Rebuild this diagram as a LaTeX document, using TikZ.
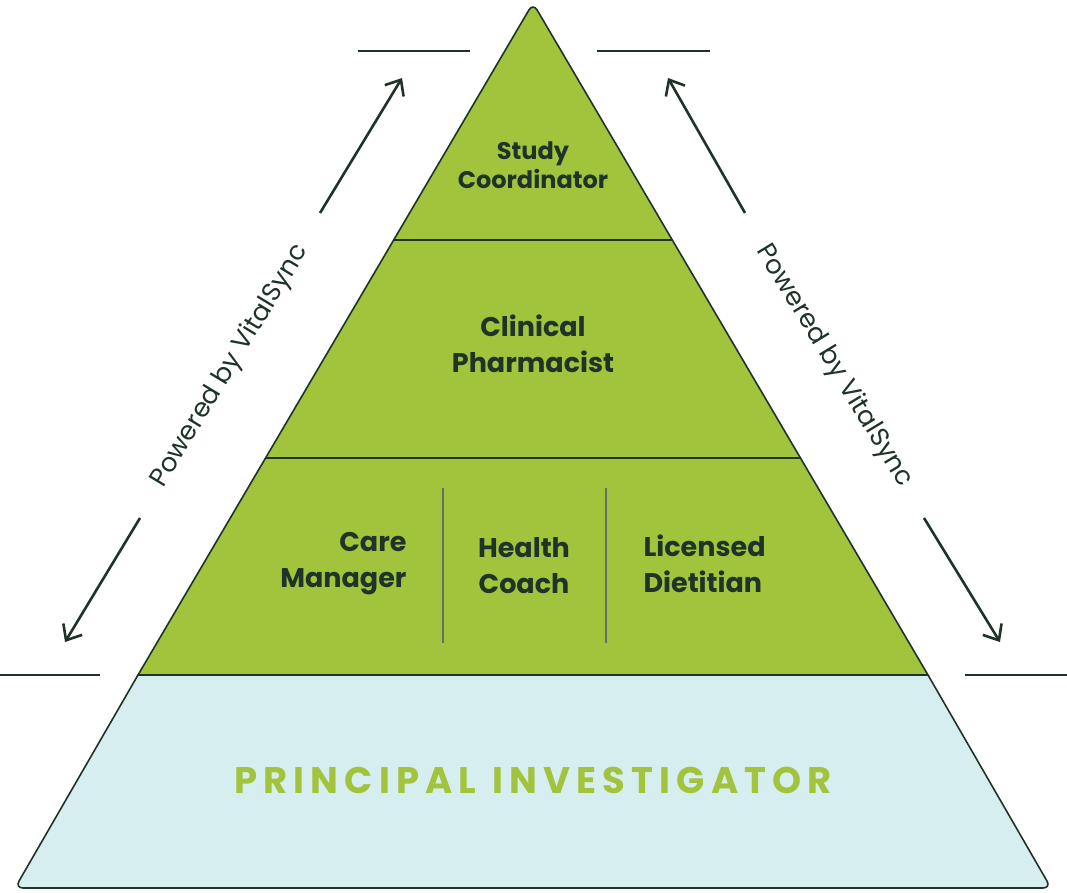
\documentclass[tikz,border=0pt]{standalone}
\usepackage{fontspec}
\setmainfont{Poppins}
\usetikzlibrary{arrows.meta}
\begin{document}
\begin{tikzpicture}[x=1pt,y=-1pt,
  edge/.style={draw=dk,line width=1.6pt},
  lbl/.style={font=\bfseries\fontsize{27}{36}\selectfont,text=dk,align=center},
  pw/.style={font=\fontsize{26}{30}\selectfont,text=dk},
  arr/.style={draw=dk,line width=2.6pt,-{Straight Barb[length=13pt,width=22pt]}}]
\definecolor{dk}{HTML}{1F3328}
\definecolor{gr}{HTML}{A2C43C}
\definecolor{lb}{HTML}{D7EEF0}
\useasboundingbox (0,0) rectangle (1067,892);
\filldraw[fill=lb,draw=dk,line width=1.6pt,rounded corners=8pt] (138,675) -- (15,888) -- (1051,888) -- (928,675);
\filldraw[fill=gr,draw=dk,line width=1.6pt] (138,675) [rounded corners=8pt] -- (533,3) [sharp corners] -- (928,675) -- cycle;
\draw[edge] (138,675) -- (928,675);
\draw[edge] (266,458) -- (801,458);
\draw[edge] (393,240) -- (672,240);
\draw[draw=dk!70,line width=1.2pt] (443,488) -- (443,643);
\draw[draw=dk!70,line width=1.2pt] (606,488) -- (606,643);
\node[lbl,font=\bfseries\fontsize{24}{29}\selectfont] (sc) at (533,165) {Study\\Coordinator};
\node[lbl] (cp) at (533,344) {Clinical\\Pharmacist};
\node[lbl,align=right,anchor=east] (cm) at (410,564) {Care\\Manager};
\node[lbl] (hc) at (524,566) {Health\\Coach};
\node[lbl,align=left,anchor=west] (ld) at (640,564) {Licensed\\Dietitian};
\node[font=\bfseries\fontsize{37}{40}\selectfont,text=gr] (pi) at (533,780) {P\,R\,I\,N\,C\,I\,P\,A\,L\ \ I\,N\,V\,E\,S\,T\,I\,G\,A\,T\,O\,R};
\draw[edge,line width=2.4pt] (358,51) -- (470,51);
\draw[edge,line width=2.4pt] (597,51) -- (710,51);
\draw[edge,line width=2.4pt] (0,675) -- (100,675);
\draw[edge,line width=2.4pt] (965,675) -- (1067,675);
\coordinate (la1) at (320,213); \coordinate (la2) at (402,78);
\coordinate (lb1) at (140,518); \coordinate (lb2) at (65,642);
\coordinate (ra1) at (745,213); \coordinate (ra2) at (668,78);
\coordinate (rb1) at (924,518); \coordinate (rb2) at (1000,642);
\draw[arr] (la1) -- (la2);
\draw[arr] (lb1) -- (lb2);
\draw[arr] (ra1) -- (ra2);
\draw[arr] (rb1) -- (rb2);
\node[pw,rotate=58.7] (pl) at (230,366) {Powered by VitalSync};
\node[pw,rotate=-58.7] (pr) at (834,366) {Powered by VitalSync};
\end{tikzpicture}
\end{document}
